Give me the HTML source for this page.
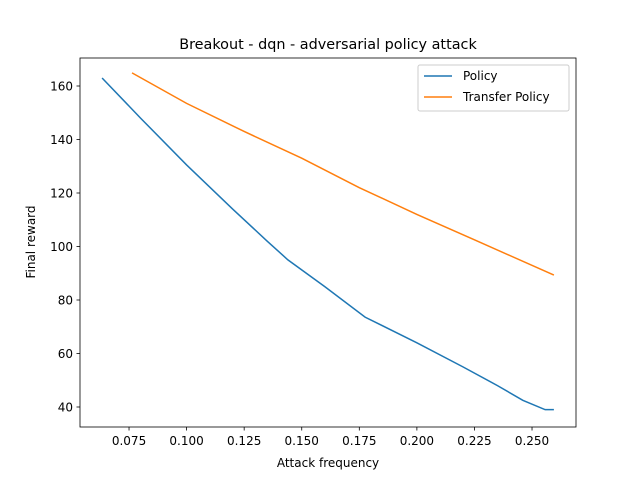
<!DOCTYPE html>
<html><head><meta charset="utf-8"><style>
body{margin:0;background:#fff;font-family:"DejaVu Sans","Liberation Sans",sans-serif}
text{font-family:"DejaVu Sans","Liberation Sans",sans-serif}
</style></head><body>
<svg id="chart" width="640" height="480" xmlns="http://www.w3.org/2000/svg">
<rect width="640" height="480" fill="#fff"/>
<text x="328" y="49" font-size="14.4" text-anchor="middle">Breakout - dqn - adversarial policy attack</text>
<g id="grid"></g>
<g id="series"></g>
<rect x="80" y="58" width="496" height="369" fill="none" stroke="#000" stroke-width="0.8"/>
<text x="328" y="467" font-size="12" text-anchor="middle">Attack frequency</text>
<text transform="translate(35,242) rotate(-90)" font-size="12" text-anchor="middle">Final reward</text>
<g>
<rect x="418" y="65" width="151" height="46" fill="#fff" stroke="#ccc" rx="2"/>
<line x1="424" y1="76" x2="452" y2="76" stroke="#1f77b4" stroke-width="1.5"/>
<text x="463" y="80" font-size="12">Policy</text>
<line x1="424" y1="97" x2="452" y2="97" stroke="#ff7f0e" stroke-width="1.5"/>
<text x="463" y="101" font-size="12">Transfer Policy</text>
</g>
</svg>
<script>
const xTicks=[0.075,0.100,0.125,0.150,0.175,0.200,0.225,0.250];
const xTickLabels=["0.075","0.100","0.125","0.150","0.175","0.200","0.225","0.250"];
const yTicks=[40,60,80,100,120,140,160];
const policyX=[0.0633,0.08,0.1,0.12,0.135,0.144,0.16,0.1775,0.2,0.22,0.235,0.246,0.2557,0.2595];
const policyY=[163,148,130.5,114,102,95,85,73.6,64,55,48,42.5,39,39];
const transferX=[0.0763,0.1,0.125,0.15,0.175,0.2,0.225,0.2595];
const transferY=[164.9,153.5,143,133,122,112,102.5,89.3];
function sx(v){return 186.6+(v-0.1)/0.025*57.57;}
function sy(v){return 86+(160-v)*2.675;}
const NS="http://www.w3.org/2000/svg";
const g=document.getElementById('grid');
xTicks.forEach((t,i)=>{
 const l=document.createElementNS(NS,'line');
 
 
 l.setAttribute('x1',sx(t));l.setAttribute('x2',sx(t));l.setAttribute('y1',427);l.setAttribute('y2',430.5);l.setAttribute('stroke','#000');l.setAttribute('stroke-width','0.8');g.appendChild(l);
 const tx=document.createElementNS(NS,'text');
 
 
 tx.setAttribute('x',sx(t));tx.setAttribute('y',445);tx.setAttribute('font-size','12');tx.setAttribute('text-anchor','middle');tx.textContent=xTickLabels[i];g.appendChild(tx);
});
yTicks.forEach(t=>{
 const l=document.createElementNS(NS,'line');
 
 
 l.setAttribute('x1',76.5);l.setAttribute('x2',80);l.setAttribute('y1',sy(t));l.setAttribute('y2',sy(t));l.setAttribute('stroke','#000');l.setAttribute('stroke-width','0.8');g.appendChild(l);
 const tx=document.createElementNS(NS,'text');
 
 
 tx.setAttribute('x',73);tx.setAttribute('y',sy(t)+4.5);tx.setAttribute('font-size','12');tx.setAttribute('text-anchor','end');tx.textContent=t;g.appendChild(tx);
});
const s=document.getElementById('series');
function line(xs,ys,c,name){
 const p=document.createElementNS(NS,'polyline');
 
 
 p.setAttribute('points',xs.map((x,i)=>sx(x)+','+sy(ys[i])).join(' '));
 p.setAttribute('fill','none');p.setAttribute('stroke',c);p.setAttribute('stroke-width','1.5');
 s.appendChild(p);
}
line(policyX,policyY,'#1f77b4','policy-line');
line(transferX,transferY,'#ff7f0e','transfer-policy-line');
</script>
</body></html>
